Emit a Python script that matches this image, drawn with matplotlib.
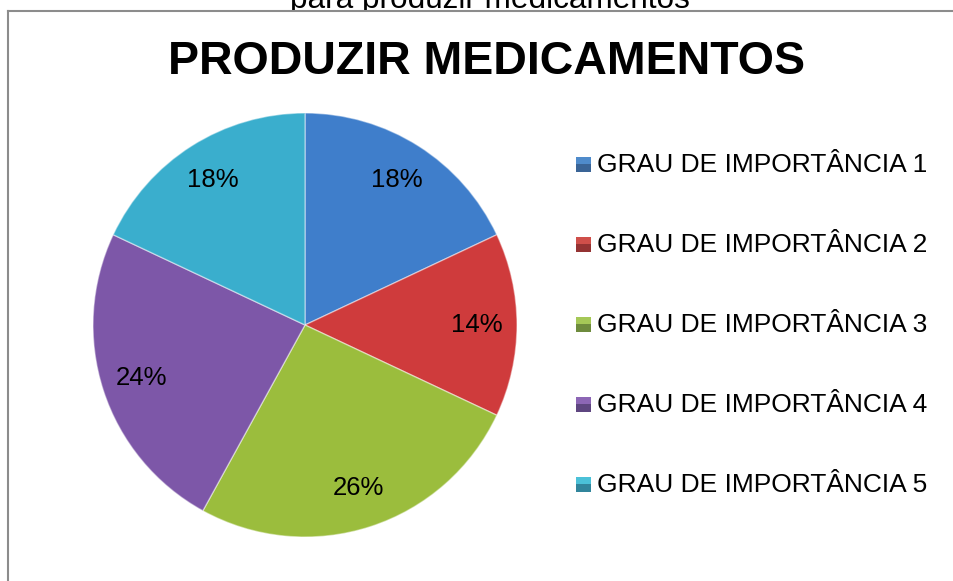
#!/usr/bin/env python3

"""
Pie chart: grau de importância para produzir medicamentos.
"""

import matplotlib
matplotlib.use("Agg")
import matplotlib.pyplot as plt
from matplotlib.patches import Rectangle
from matplotlib.lines import Line2D

plt.rcParams['font.family'] = ['Liberation Sans', 'DejaVu Sans']

# Data
categories = ['GRAU DE IMPORTÂNCIA 1', 'GRAU DE IMPORTÂNCIA 2', 'GRAU DE IMPORTÂNCIA 3',
              'GRAU DE IMPORTÂNCIA 4', 'GRAU DE IMPORTÂNCIA 5']
shares = [18, 14, 26, 24, 18]
chart_title = 'PRODUZIR MEDICAMENTOS'
caption = 'para produzir medicamentos'

# Slice colours and the two-tone legend swatches
slice_colors = ['#3f7ecb', '#cf3b3c', '#9bbd3d', '#7d57a8', '#3aaecd']
swatch_light = ['#4f8bcb', '#cf4f4a', '#a5c857', '#8c66b5', '#4bc1d8']
swatch_dark = ['#3a6496', '#943333', '#6e8b3d', '#5e4680', '#31859c']

W, H = 954, 581
DPI = 100


def fx(px):
    return px / W


def fy(py):
    # pixel from top -> figure fraction
    return (H - py) / H


fig = plt.figure(figsize=(W / DPI, H / DPI), dpi=DPI)
fig.patch.set_facecolor('white')

# caption of the document, mostly hidden behind the chart frame
fig.text(fx(490), fy(8), caption, ha='center', va='baseline',
         fontsize=22.7, color='black', zorder=1)
fig.patches.append(Rectangle((0, fy(30)), 1, fy(10.5) - fy(30), transform=fig.transFigure,
                             facecolor='white', edgecolor='none', zorder=2))

# chart frame (left and top edges visible)
frame_color = '#8c8c8c'
fig.add_artist(Line2D([fx(8.5), fx(8.5)], [0, fy(10.5)], color=frame_color, lw=1.5, zorder=3))
fig.add_artist(Line2D([fx(8.5), 1], [fy(10.5), fy(10.5)], color=frame_color, lw=1.5, zorder=3))

# title
fig.text(fx(487), fy(74), chart_title, ha='center', va='baseline',
         fontsize=33.5, fontweight='bold', color='black', zorder=4)

# pie
cx, cy, r = 305, 325, 212
ax = fig.add_axes([fx(cx - r), fy(cy + r), 2 * r / W, 2 * r / H])
ax.set_zorder(5)
wedges, texts, autotexts = ax.pie(
    shares, colors=slice_colors, startangle=90, counterclock=False,
    autopct='%1.0f%%', pctdistance=0.81, radius=1.0,
    wedgeprops=dict(edgecolor=(1, 1, 1, 0.45), linewidth=1.0),
    textprops=dict(fontsize=18.5, color='black'))
ax.set_xlim(-1, 1)
ax.set_ylim(-1, 1)
ax.set_aspect('equal')
ax.axis('off')

# legend
row0, row_step = 164.5, 80
for i, label in enumerate(categories):
    yc = row0 + row_step * i
    fig.patches.append(Rectangle((fx(576), fy(yc)), fx(15), fy(0) - fy(7.2),
                                 transform=fig.transFigure, facecolor=swatch_light[i],
                                 edgecolor='none', zorder=6))
    fig.patches.append(Rectangle((fx(576), fy(yc + 7.2)), fx(15), fy(0) - fy(7.2),
                                 transform=fig.transFigure, facecolor=swatch_dark[i],
                                 edgecolor='none', zorder=6))
    fig.text(fx(597), fy(yc + 7.8), label, ha='left', va='baseline',
             fontsize=19, color='black', zorder=6)

fig.savefig('out.png', dpi=DPI)
